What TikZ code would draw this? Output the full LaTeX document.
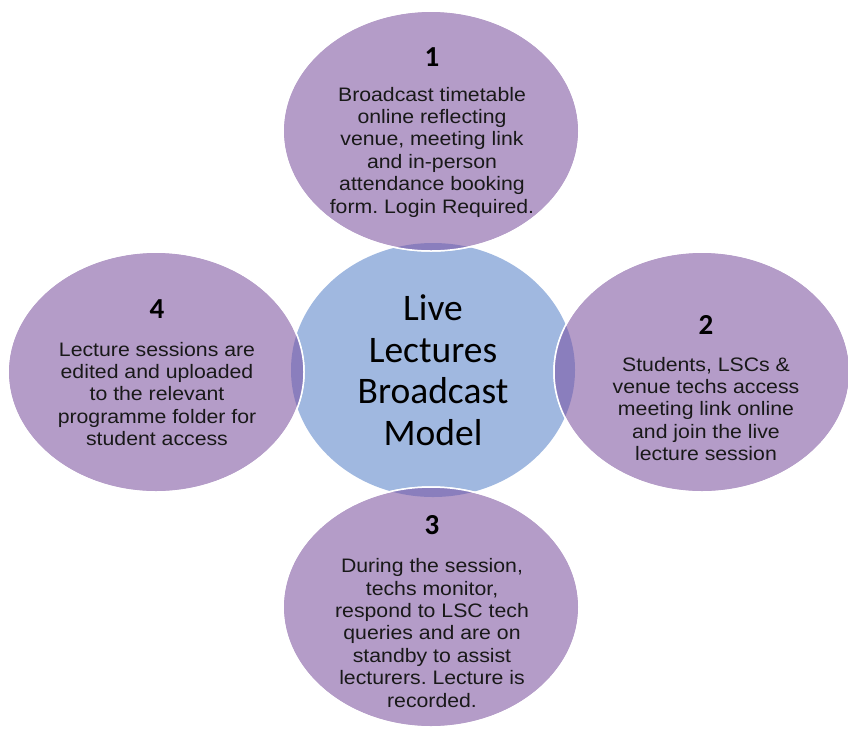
\documentclass[tikz,border=0pt]{standalone}
\usepackage{fontspec}
\setmainfont{Liberation Sans}[FakeStretch=1.09]
\newfontfamily\calfont{Carlito}
\usepackage{tikz}
\usetikzlibrary{shapes.geometric}
\frenchspacing

\definecolor{petalpurple}{HTML}{B49CC8}
\definecolor{hubblue}{HTML}{A0B8E0}
\definecolor{lensviolet}{HTML}{8A7EBD}

\tikzset{
    petal/.style={ellipse, fill=petalpurple, draw=white, line width=1.5pt,
        minimum width=296pt, minimum height=240pt, inner sep=0pt},
    hub/.style={ellipse, fill=hubblue, minimum width=284pt,
        minimum height=254pt, inner sep=0pt},
    steptext/.style={align=center, text=black!90,
        font=\fontsize{19.5}{22.4}\selectfont},
    stepnum/.style={font=\calfont\bfseries\fontsize{29}{32}\selectfont},
    hubtext/.style={align=center, text=black,
        font=\calfont\fontsize{37.5}{41.5}\selectfont}
}

\begin{document}
\begin{tikzpicture}[x=1pt, y=-1pt]
\useasboundingbox (0,0) rectangle (848,729);

% centre and the four steps
\node[hub] (hub) at (433,370) {};
\node[petal] (p1) at (431,131) {};
\node[petal] (p2) at (702,372) {};
\node[petal] (p3) at (431,607) {};
\node[petal] (p4) at (156,372) {};

% darker overlaps
\foreach \p in {p1,p2,p3,p4}{
    \begin{scope}
        \clip (hub.center) ellipse [x radius=142pt, y radius=127pt];
        \fill[lensviolet] (\p.center) ellipse [x radius=148pt, y radius=120pt];
    \end{scope}
    \draw[white, line width=1.5pt] (\p.center) ellipse [x radius=148pt, y radius=120pt];
}

% texts
\node[hubtext] (title) at (433,370) {Live\\Lectures\\Broadcast\\Model};

\node[stepnum] (num1) at (432,57) {1};
\node[steptext] (txt1) at (432,152) {Broadcast timetable\\online reflecting\\venue, meeting link\\and in-person\\attendance booking\\form. Login Required.};

\node[stepnum] (num2) at (706,325) {2};
\node[steptext] (txt2) at (706,409) {Students, LSCs \&\\venue techs access\\meeting link online\\and join the live\\lecture session};

\node[stepnum] (num3) at (432,525) {3};
\node[steptext] (txt3) at (432,633) {During the session,\\techs monitor,\\respond to LSC tech\\queries and are on\\standby to assist\\lecturers. Lecture is\\recorded.};

\node[stepnum] (num4) at (157,309) {4};
\node[steptext] (txt4) at (157,394) {Lecture sessions are\\edited and uploaded\\to the relevant\\programme folder for\\student access};
\end{tikzpicture}
\end{document}
